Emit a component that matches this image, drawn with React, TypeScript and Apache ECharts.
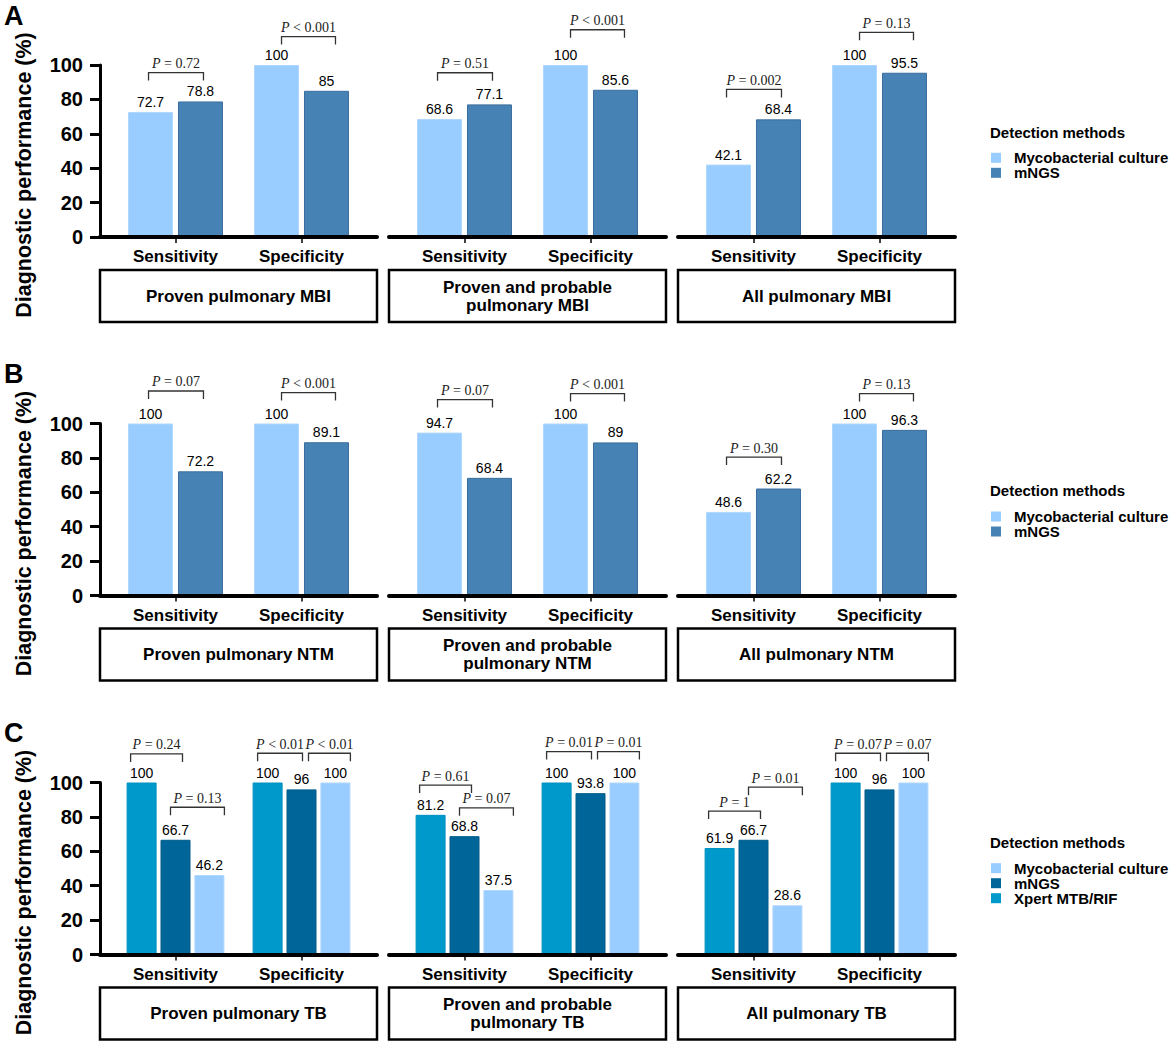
import React, { useEffect, useRef } from 'react';
import * as echarts from 'echarts';

// ---------- data ----------
const categories = ['Sensitivity', 'Specificity'];
const CULTURE = 'Mycobacterial culture';
const MNGS = 'mNGS';
const XPERT = 'Xpert MTB/RIF';

// Row A: MBI  (per panel: [Sensitivity, Specificity])
const mbiPanels = ['Proven pulmonary MBI', 'Proven and probable\npulmonary MBI', 'All pulmonary MBI'];
const mbiCulture = [[72.7, 100], [68.6, 100], [42.1, 100]];
const mbiMngs = [[78.8, 85], [77.1, 85.6], [68.4, 95.5]];
const mbiP = [['= 0.72', '< 0.001'], ['= 0.51', '< 0.001'], ['= 0.002', '= 0.13']];
const mbiBracketY = [[95.6, 116.5], [95.5, 120.5], [85.8, 119]];

// Row B: NTM
const ntmPanels = ['Proven pulmonary NTM', 'Proven and probable\npulmonary NTM', 'All pulmonary NTM'];
const ntmCulture = [[100, 100], [94.7, 100], [48.6, 100]];
const ntmMngs = [[72.2, 89.1], [68.4, 89], [62.2, 96.3]];
const ntmP = [['= 0.07', '< 0.001'], ['= 0.07', '< 0.001'], ['= 0.30', '= 0.13']];
const ntmBracketY = [[118.9, 118], [113.9, 117.4], [80.5, 117.4]];

// Row C: TB
const tbPanels = ['Proven pulmonary TB', 'Proven and probable\npulmonary TB', 'All pulmonary TB'];
const tbXpert = [[100, 100], [81.2, 100], [61.9, 100]];
const tbMngs = [[66.7, 96], [68.8, 93.8], [66.7, 96]];
const tbCulture = [[46.2, 100], [37.5, 100], [28.6, 100]];
// per panel, per category: [Xpert vs mNGS, mNGS vs culture]
const tbP = [
  [['= 0.24', '= 0.13'], ['< 0.01', '< 0.01']],
  [['= 0.61', '= 0.07'], ['= 0.01', '= 0.01']],
  [['= 1', '= 0.01'], ['= 0.07', '= 0.07']],
];
const tbBracketY = [
  [[116.6, 85.6], [117, 117]],
  [[98.5, 85.3], [118, 118]],
  [[83.4, 97.3], [117, 117]],
];

const yMin = 0;
const yMax = 100;
const yInterval = 20;

// ---------- styles / layout ----------
const FONT = 'Liberation Sans, Arial, Helvetica, sans-serif';
const SERIF = 'Liberation Serif, Times New Roman, serif';
const C_CULTURE = '#99CCFF';
const B_CULTURE = '#B0D7FF';
const C_MNGS_AB = '#4682B4';
const B_MNGS_AB = '#3A6E9E';
const C_MNGS_C = '#006699';
const B_MNGS_C = '#005A88';
const C_XPERT = '#0099CC';
const B_XPERT = '#0090C2';

const PANEL_LEFT = [100, 389, 678];
const PANEL_W = 277;
const INNER_INSET = 12.5;
const PLOT_H = 172;
const BRACKET_OFF_2 = [[-2, 3], [5, 9]];
const BRACKET_OFF_3 = [
  [[-11, 7], [-5, 15]],
  [[-10, 1], [7, 15]],
];

type Bracket = { cat: number; y: number; from: number; to: number; text: string; pair: number };

function abBrackets(pv: string[][], ys: number[][], p: number): Bracket[] {
  return categories.map((_, c) => ({ cat: c, y: ys[p][c], from: 0, to: 1, text: pv[p][c], pair: 0 }));
}
function tbBrackets(p: number): Bracket[] {
  const out: Bracket[] = [];
  categories.forEach((_, c) => {
    [0, 1].forEach((k) => {
      out.push({ cat: c, y: tbBracketY[p][c][k], from: k, to: k + 1, text: tbP[p][c][k], pair: k });
    });
  });
  return out;
}

type SeriesDef = { name: string; data: number[]; color: string; border: string };

const rows = [
  {
    letter: 'A', zero: 237, legendTitleY: 132, legendTop: 150.3, panels: mbiPanels,
    barWidth: 45, barGap: 0.11,
    series: (p: number): SeriesDef[] => [
      { name: CULTURE, data: mbiCulture[p], color: C_CULTURE, border: B_CULTURE },
      { name: MNGS, data: mbiMngs[p], color: C_MNGS_AB, border: B_MNGS_AB },
    ],
    brackets: (p: number) => abBrackets(mbiP, mbiBracketY, p),
    legend: [{ name: CULTURE, color: C_CULTURE }, { name: MNGS, color: C_MNGS_AB }],
  },
  {
    letter: 'B', zero: 595.5, legendTitleY: 490.7, legendTop: 509, panels: ntmPanels,
    barWidth: 45, barGap: 0.11,
    series: (p: number): SeriesDef[] => [
      { name: CULTURE, data: ntmCulture[p], color: C_CULTURE, border: B_CULTURE },
      { name: MNGS, data: ntmMngs[p], color: C_MNGS_AB, border: B_MNGS_AB },
    ],
    brackets: (p: number) => abBrackets(ntmP, ntmBracketY, p),
    legend: [{ name: CULTURE, color: C_CULTURE }, { name: MNGS, color: C_MNGS_AB }],
  },
  {
    letter: 'C', zero: 954.5, legendTitleY: 842.7, legendTop: 860.7, panels: tbPanels,
    barWidth: 30, barGap: 0.13,
    series: (p: number): SeriesDef[] => [
      { name: XPERT, data: tbXpert[p], color: C_XPERT, border: B_XPERT },
      { name: MNGS, data: tbMngs[p], color: C_MNGS_C, border: B_MNGS_C },
      { name: CULTURE, data: tbCulture[p], color: C_CULTURE, border: B_CULTURE },
    ],
    brackets: (p: number) => tbBrackets(p),
    legend: [
      { name: CULTURE, color: C_CULTURE },
      { name: MNGS, color: C_MNGS_C },
      { name: XPERT, color: C_XPERT },
    ],
  },
];

function buildOption() {
  const grid: any[] = [];
  const xAxis: any[] = [];
  const yAxis: any[] = [];
  const series: any[] = [];
  const legend: any[] = [];
  const graphic: any[] = [];

  rows.forEach((row, r) => {
    const top = row.zero - PLOT_H;
    row.panels.forEach((panelName, p) => {
      const gi = (r * 3 + p) * 2;
      const left = PANEL_LEFT[p];
      // outer grid (axis lines)
      grid.push({ left, top, width: PANEL_W, height: PLOT_H, containLabel: false });
      xAxis.push({
        type: 'value', gridIndex: gi, min: 0, max: 1, z: 5,
        axisLine: { show: true, onZero: false, lineStyle: { color: '#000', width: 4 } },
        axisTick: { show: false }, axisLabel: { show: false }, splitLine: { show: false },
      });
      yAxis.push({
        type: 'value', gridIndex: gi, min: yMin, max: yMax, interval: yInterval, show: p === 0, z: 5,
        axisLine: { show: true, onZero: false, lineStyle: { color: '#000', width: 3 } },
        axisTick: { show: true, length: 10, lineStyle: { color: '#000', width: 3 } },
        axisLabel: { show: true, margin: 17, fontSize: 20, fontWeight: 'bold', color: '#000', fontFamily: FONT },
        splitLine: { show: false },
      });
      // inner grid (bars)
      grid.push({ left: left + INNER_INSET, top, width: PANEL_W - 2 * INNER_INSET, height: PLOT_H, containLabel: false });
      xAxis.push({
        type: 'category', gridIndex: gi + 1, data: categories,
        axisLine: { show: false },
        axisTick: { show: true, alignWithLabel: true, length: 6, lineStyle: { color: '#000', width: 1.5 } },
        axisLabel: { margin: 11, fontSize: 17, fontWeight: 'bold', color: '#000', fontFamily: FONT },
        splitLine: { show: false },
      });
      yAxis.push({ type: 'value', gridIndex: gi + 1, min: yMin, max: yMax, show: false, splitLine: { show: false } });

      const defs = row.series(p);
      defs.forEach((d) => {
        series.push({
          type: 'bar', name: d.name, xAxisIndex: gi + 1, yAxisIndex: gi + 1, data: d.data,
          barWidth: row.barWidth, barGap: `${row.barGap * 100}%`,
          itemStyle: { color: d.color, borderColor: d.border, borderWidth: 1 },
          label: { show: true, position: 'top', distance: 3, fontSize: 14, color: '#000', fontFamily: FONT },
          z: 2,
        });
      });

      const list = row.brackets(p);
      const n = defs.length;
      const bw = row.barWidth;
      const gap = row.barGap;
      series.push({
        type: 'custom', xAxisIndex: gi + 1, yAxisIndex: gi + 1, clip: false, silent: true, z: 3,
        data: list.map((b) => [b.cat, b.y]),
        renderItem: (params: any, api: any) => {
          const b = list[params.dataIndex];
          const pt = api.coord([b.cat, b.y]);
          const cx = pt[0];
          const cy = pt[1];
          const step = bw * (1 + gap);
          const c0 = cx + (b.from - (n - 1) / 2) * step;
          const c1 = cx + (b.to - (n - 1) / 2) * step;
          const off = n === 2 ? BRACKET_OFF_2[b.cat] : BRACKET_OFF_3[b.cat][b.pair];
          const x1 = c0 + off[0];
          const x2 = c1 + off[1];
          return {
            type: 'group',
            children: [
              {
                type: 'polyline',
                shape: { points: [[x1, cy + 8], [x1, cy], [x2, cy], [x2, cy + 8]] },
                style: { stroke: '#333', lineWidth: 1.3, fill: null },
              },
              {
                type: 'text',
                x: (x1 + x2) / 2,
                y: cy - 2,
                style: {
                  text: '{i|P} ' + b.text,
                  fill: '#222',
                  fontSize: 14,
                  fontFamily: SERIF,
                  align: 'center',
                  verticalAlign: 'bottom',
                  rich: { i: { fontStyle: 'italic', fontSize: 14, fontFamily: SERIF, fill: '#222' } },
                },
              },
            ],
          };
        },
      });

      // panel box and label
      graphic.push({
        type: 'rect', shape: { x: left, y: row.zero + 33, width: PANEL_W, height: 52 },
        style: { fill: 'transparent', stroke: '#000', lineWidth: 2.5 }, silent: true,
      });
      graphic.push({
        type: 'text', x: left + PANEL_W / 2, y: row.zero + 59,
        style: {
          text: panelName, fill: '#000', fontSize: 17, fontWeight: 'bold', fontFamily: FONT,
          align: 'center', verticalAlign: 'middle', lineHeight: 18,
        }, silent: true,
      });
    });

    // row letter
    graphic.push({
      type: 'text', x: 4, y: row.zero - 221.5,
      style: { text: row.letter, fill: '#000', fontSize: 27, fontWeight: 'bold', fontFamily: FONT, align: 'left', verticalAlign: 'middle' },
      silent: true,
    });
    // y title
    graphic.push({
      type: 'text', x: 24, y: row.zero - 62, rotation: Math.PI / 2,
      style: { text: 'Diagnostic performance (%)', fill: '#000', fontSize: 21.5, fontWeight: 'bold', fontFamily: FONT, align: 'center', verticalAlign: 'middle' },
      silent: true,
    });
    // legend title
    graphic.push({
      type: 'text', x: 990, y: row.legendTitleY,
      style: { text: 'Detection methods', fill: '#000', fontSize: 15, fontWeight: 'bold', fontFamily: FONT, align: 'left', verticalAlign: 'middle' },
      silent: true,
    });
    legend.push({
      orient: 'vertical', left: 991, top: row.legendTop, itemWidth: 10, itemHeight: 10, itemGap: 0,
      icon: 'rect', padding: 0, selectedMode: false,
      textStyle: { fontSize: 15, fontWeight: 'bold', color: '#000', lineHeight: 14, fontFamily: FONT, padding: [0, 0, 0, 8] },
      data: row.legend.map((l) => ({ name: l.name, itemStyle: { color: l.color, borderWidth: 0 } })),
    });
  });

  return {
    animation: false,
    backgroundColor: '#fff',
    textStyle: { fontFamily: FONT },
    grid, xAxis, yAxis, series, legend, graphic,
  };
}

export default function App() {
  const ref = useRef<HTMLDivElement>(null);
  useEffect(() => {
    const chart = echarts.init(ref.current as HTMLDivElement, undefined, { renderer: 'svg' });
    chart.setOption(buildOption() as any);
    return () => chart.dispose();
  }, []);
  return (
    <div
      ref={ref}
      style={{ position: 'absolute', left: 0, top: 0, width: 1170, height: 1045, background: '#fff' }}
    />
  );
}
